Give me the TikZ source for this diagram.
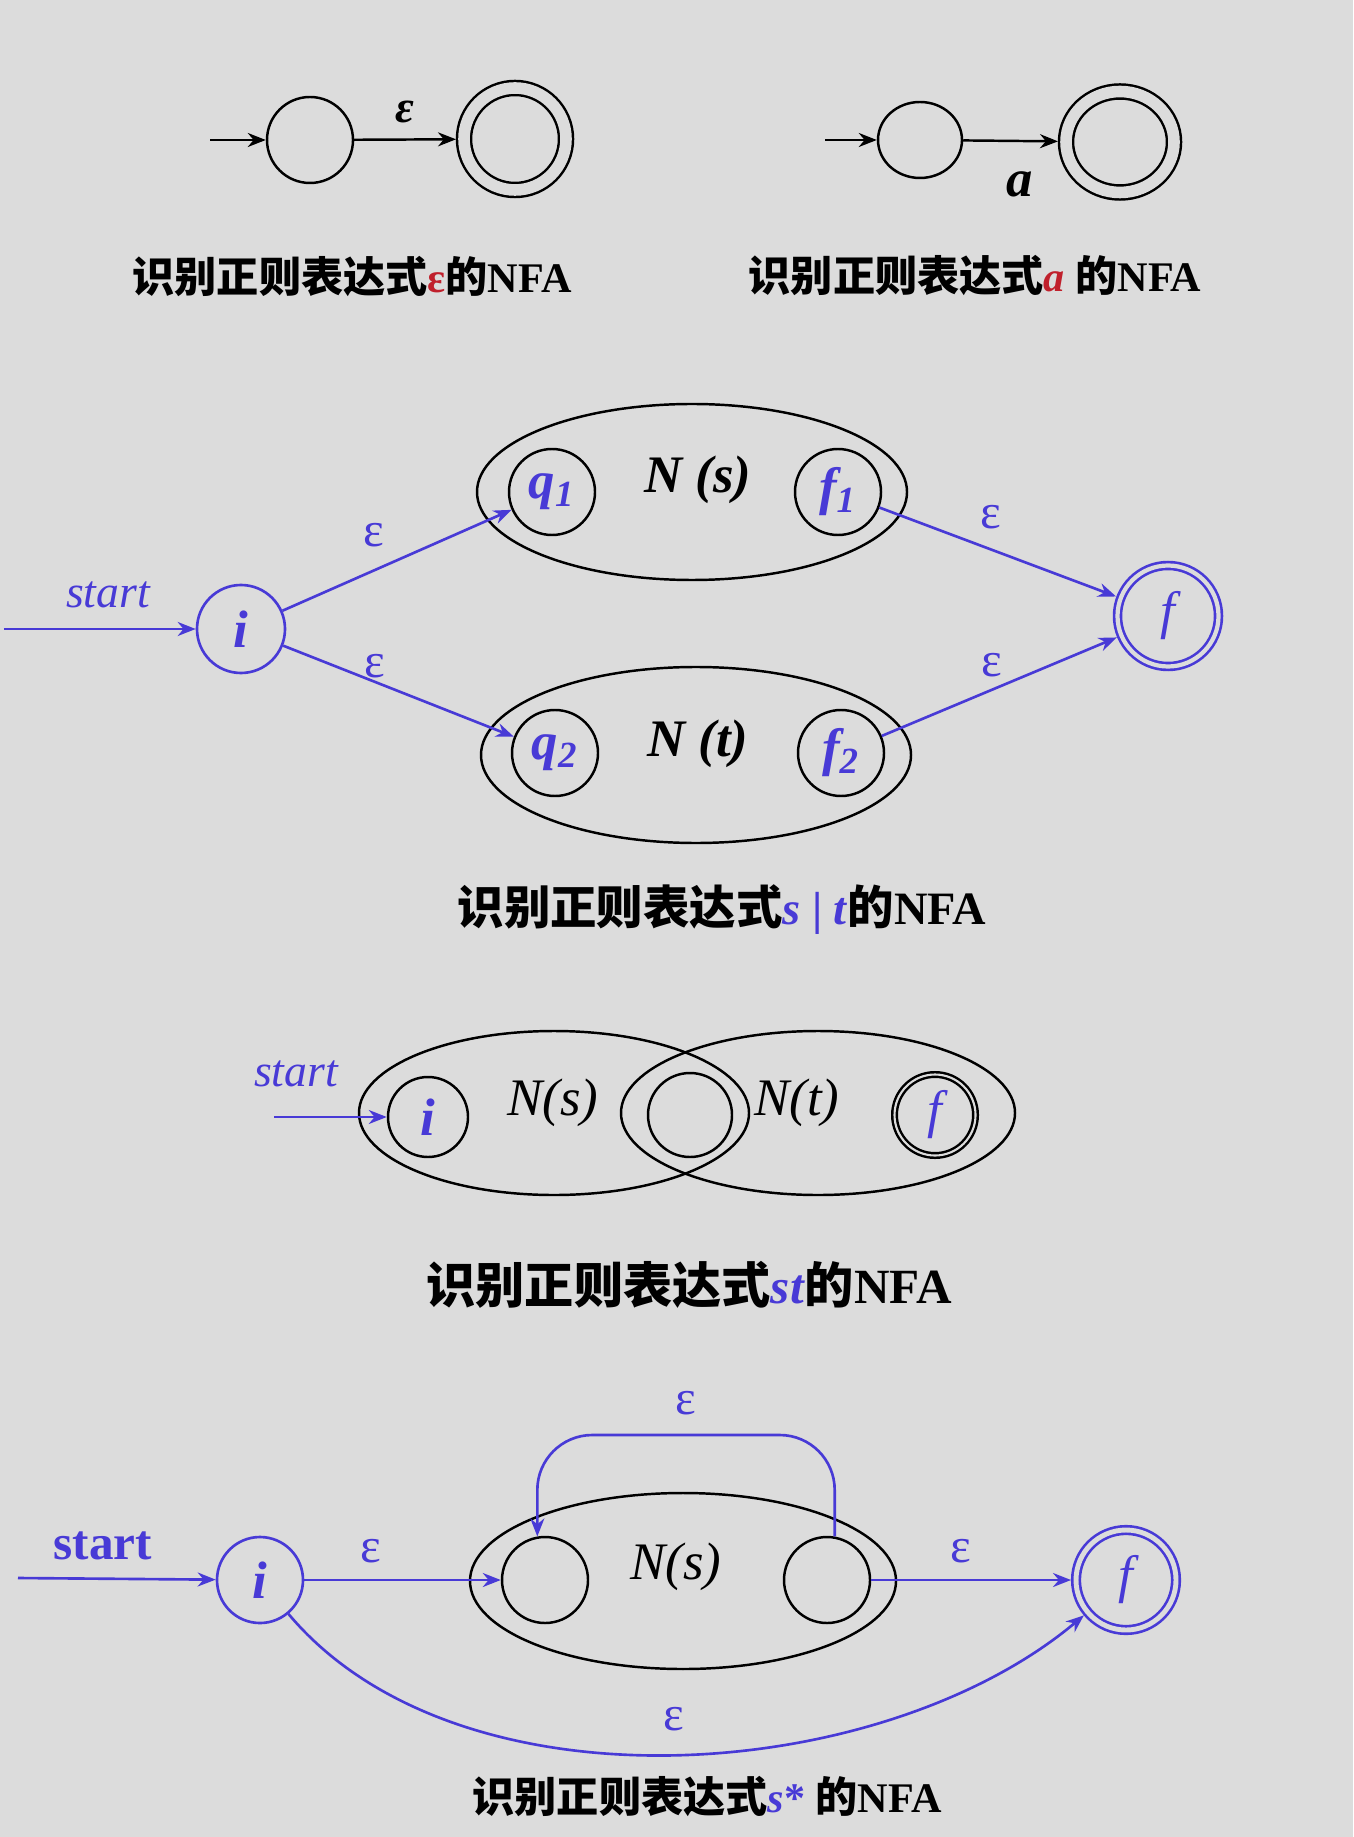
\documentclass[tikz,border=0pt]{standalone}
\usepackage{fontspec}
\setmainfont{Liberation Serif}
\newfontfamily\cjk{Noto Sans CJK SC}
\usetikzlibrary{arrows.meta,shapes.geometric}
\definecolor{bg}{RGB}{220,220,220}
\definecolor{nblue}{RGB}{72,58,214}
\definecolor{nred}{RGB}{192,32,44}
\newcommand{\zh}[1]{{\cjk #1}}

\begin{document}
\begin{tikzpicture}[
    line width=0.7pt,
    circ/.style={circle, draw, inner sep=0pt, minimum size=#1},
    circ/.default=0.86cm,
    oval/.style={ellipse, draw, inner sep=0pt, minimum width=4.3cm, minimum height=1.76cm},
    arr/.style={-{Stealth[length=1.8mm,width=1.4mm]}},
    bl/.style={draw=nblue, line width=0.75pt},
    capt/.style={font=\fontsize{#1}{16}\selectfont\bfseries},
    capt/.default=12,
    lab/.style={font=\fontsize{15}{18}\selectfont\bfseries\itshape},
    labr/.style={font=\fontsize{15}{18}\selectfont\itshape},
    eps/.style={font=\fontsize{14}{16}\selectfont, text=nblue},
  ]
  \fill[bg] (0,0) rectangle (13.53,-18.37);
  \useasboundingbox (0,0) rectangle (13.53,-18.37);

  % 识别 ε
  \node[circ] (e0) at (3.10,-1.40) {};
  \node[circ=1.02cm, double=bg, double distance=3.3pt, outer sep=0.08cm] (e1) at (5.15,-1.39) {};
  \coordinate (e0in) at (2.10,-1.40);
  \draw[arr] (e0in) -- (e0);
  \draw[arr] (e0) -- node[above=1pt, font=\fontsize{13}{15}\selectfont\bfseries\itshape] {ε} (e1);
  \node[capt] (c1) at (3.52,-2.77) {\zh{识别正则表达式}\textcolor{nred}{ε}\zh{的}NFA};

  % 识别 a
  \node[ellipse, draw, inner sep=0pt, minimum width=0.84cm, minimum height=0.76cm] (a0) at (9.20,-1.40) {};
  \node[ellipse, draw, double=bg, double distance=3.3pt, inner sep=0pt, outer sep=0.08cm,
        minimum width=1.08cm, minimum height=1.01cm] (a1) at (11.20,-1.42) {};
  \coordinate (a0in) at (8.25,-1.40);
  \draw[arr] (a0in) -- (a0);
  \draw[arr] (a0) -- node[pos=0.6, below=5pt, font=\fontsize{15}{18}\selectfont\bfseries\itshape] {a} (a1);
  \node[capt] (c2) at (9.75,-2.76) {\zh{识别正则表达式}\textcolor{nred}{\textit{a}} \zh{的}NFA};

  % s | t
  \node[oval] (Ns) at (6.92,-4.92) {};
  \node[lab] (Nslab) at (6.98,-4.80) {N (s)};
  \node[circ, lab, text=nblue] (q1) at (5.52,-4.92) {q\textsubscript{1}};
  \node[circ, lab, text=nblue] (f1) at (8.38,-4.92) {f\textsubscript{1}};
  \node[oval] (Nt) at (6.96,-7.55) {};
  \node[lab] (Ntlab) at (6.98,-7.44) {N (t)};
  \node[circ, lab, text=nblue] (q2) at (5.55,-7.53) {q\textsubscript{2}};
  \node[circ, lab, text=nblue] (f2) at (8.41,-7.53) {f\textsubscript{2}};
  \node[circ=0.88cm, bl, lab, text=nblue] (i1) at (2.41,-6.29) {i};
  \node[circ=1.01cm, bl, labr, text=nblue, double=bg, double distance=1.2pt, outer sep=0.05cm] (f) at (11.68,-6.16) {f};
  \node[font=\fontsize{13}{15}\selectfont\itshape, text=nblue] (s1) at (1.08,-5.95) {start};
  \coordinate (s1in) at (0.04,-6.29);
  \draw[bl, arr] (s1in) -- (i1);
  \draw[bl, arr] (i1) -- node[eps, above left] {ε} (q1);
  \draw[bl, arr] (i1) -- node[eps, above left] {ε} (q2);
  \draw[bl, arr] (f1) -- node[eps, pos=0.47, above=2pt] {ε} (f);
  \draw[bl, arr] (f2) -- node[eps, pos=0.47, above] {ε} (f);
  \node[capt=13.2] (c3) at (7.22,-9.10) {\zh{识别正则表达式}\textcolor{nblue}{\textit{s} | \textit{t}}\zh{的}NFA};

  % st
  \node[oval, minimum width=3.90cm, minimum height=1.64cm] (Ls) at (5.54,-11.13) {};
  \node[oval, minimum width=3.94cm, minimum height=1.64cm] (Rt) at (8.18,-11.13) {};
  \node[labr] (Lslab) at (5.53,-11.03) {N(s)};
  \node[labr] (Rtlab) at (7.97,-11.03) {N(t)};
  \node[circ=0.80cm, lab, text=nblue] (i2) at (4.28,-11.17) {i};
  \node[circ=0.84cm] (m) at (6.90,-11.15) {};
  \node[circ=0.81cm, labr, text=nblue, double=bg, double distance=0.6pt] (f3) at (9.35,-11.15) {f};
  \node[font=\fontsize{13}{15}\selectfont\itshape, text=nblue] (s2) at (2.96,-10.74) {start};
  \coordinate (s2in) at (2.74,-11.17);
  \draw[bl, arr] (s2in) -- (i2);
  \node[capt=14] (c4) at (6.89,-12.85) {\zh{识别正则表达式}\textcolor{nblue}{\textit{st}}\zh{的}NFA};

  % s*
  \node[oval, minimum width=4.26cm] (Ss) at (6.83,-15.81) {};
  \node[labr] (Sslab) at (6.76,-15.67) {N(s)};
  \node[circ] (p0) at (5.45,-15.80) {};
  \node[circ] (p1) at (8.27,-15.80) {};
  \node[circ, bl, lab, text=nblue] (i3) at (2.60,-15.80) {i};
  \node[circ=1.0cm, bl, labr, text=nblue, double=bg, double distance=1.4pt, outer sep=0.05cm] (f4) at (11.26,-15.80) {f};
  \node[font=\fontsize{14}{17}\selectfont\bfseries, text=nblue] (s3) at (1.03,-15.46) {start};
  \coordinate (s3in) at (0.18,-15.78);
  \coordinate (top) at (6.89,-14.35);
  \draw[bl, arr] (s3in) -- (i3);
  \draw[bl, arr] (i3) -- node[eps, pos=0.34, above=1pt] {ε} (p0);
  \draw[bl, arr] (p1) -- node[eps, pos=0.45, above=1pt] {ε} (f4);
  \draw[bl, arr, rounded corners=0.55cm] (p1.80) -- (p1.80 |- top)
    -- node[eps, above=2pt] {ε} (p0.100 |- top) -- (p0.100); % 回到开始
  \draw[bl, arr] (i3) to[out=-50, in=-140, looseness=0.85] node[eps, above=3pt] {ε} (f4);
  \node[capt] (c5) at (7.07,-17.96) {\zh{识别正则表达式}\textcolor{nblue}{\textit{s}*} \zh{的}NFA};
\end{tikzpicture}
\end{document}
